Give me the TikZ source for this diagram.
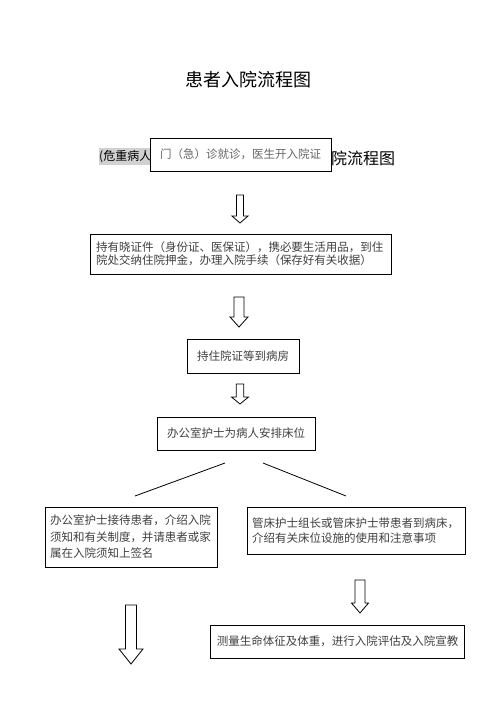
\documentclass[tikz,border=0pt]{standalone}
\usepackage{fontspec}
\newfontfamily\cjk{Noto Sans CJK SC}
\begin{document}
\begin{tikzpicture}[x=1pt,y=-1pt]
        \tikzset{
            box/.style={draw=black,line width=1pt,fill=white,inner xsep=6pt,inner ysep=0pt,align=left,text=black!75,font=\cjk\fontsize{11.5}{13}\selectfont},
            hollow/.style={draw=black,line width=0.8pt,fill=white,line join=miter}
        }
        \useasboundingbox (0,0) rectangle (496,702);

        \node[font=\cjk\fontsize{18}{20}\selectfont] (title) at (248,80) {患者入院流程图};
        \node[anchor=west,fill=black!18,inner sep=0pt,minimum height=17pt,font=\cjk\fontsize{12}{14}\selectfont] (subl) at (99,156.5) {(危重病人};
        \node[anchor=west,inner sep=0pt,font=\cjk\fontsize{16}{18}\selectfont] (subr) at (331,158) {院流程图};

        \node[box,align=center,text=black!60,minimum width=181pt,minimum height=33pt] (door) at (240.5,154.5) {门（急）诊就诊，医生开入院证};
        \node[box,text width=289pt,minimum width=301pt,minimum height=40pt] (fee) at (240.5,254) {持有晓证件（身份证、医保证），携必要生活用品，到住\\院处交纳住院押金，办理入院手续（保存好有关收据）};
        \node[box,align=center,minimum width=112pt,minimum height=34pt] (ward) at (243,356) {持住院证等到病房};
        \node[box,align=center,minimum width=158pt,minimum height=33pt] (bed) at (236,433.5) {办公室护士为病人安排床位};
        \node[box,inner xsep=5pt,text width=162pt,minimum width=172pt,minimum height=60pt,font=\cjk\fontsize{11.5}{16.5}\selectfont] (receive) at (131,537) {办公室护士接待患者，介绍入院\\须知和有关制度，并请患者或家\\属在入院须知上签名};
        \node[box,inner xsep=5pt,text width=208pt,minimum width=218pt,minimum height=47pt,font=\cjk\fontsize{11.5}{15}\selectfont] (guide) at (356,530.5) {管床护士组长或管床护士带患者到病床，\\介绍有关床位设施的使用和注意事项};
        \node[box,align=center,minimum width=253pt,minimum height=33pt] (measure) at (337.5,641.5) {测量生命体征及体重，进行入院评估及入院宣教};

        \coordinate (bl1) at (225,463);
        \coordinate (bl2) at (135,496);
        \coordinate (br1) at (263,463);
        \coordinate (br2) at (346,496);
        \draw[line width=0.8pt] (bl1) -- (bl2);
        \draw[line width=0.8pt] (br1) -- (br2);

        \foreach \x/\t/\h/\e/\s/\w in {240/195/216/223/3.5/8, 239/297/317/327/5/9, 240/384/397/404/3.7/8.5, 360/580/603/613/5/8.5, 131/605/649/664/5.5/12}{
                \draw[hollow] (\x-\s,\t) -- (\x+\s,\t) -- (\x+\s,\h) -- (\x+\w,\h) -- (\x,\e) -- (\x-\w,\h) -- (\x-\s,\h) -- cycle;
            }

    \end{tikzpicture}
\end{document}
